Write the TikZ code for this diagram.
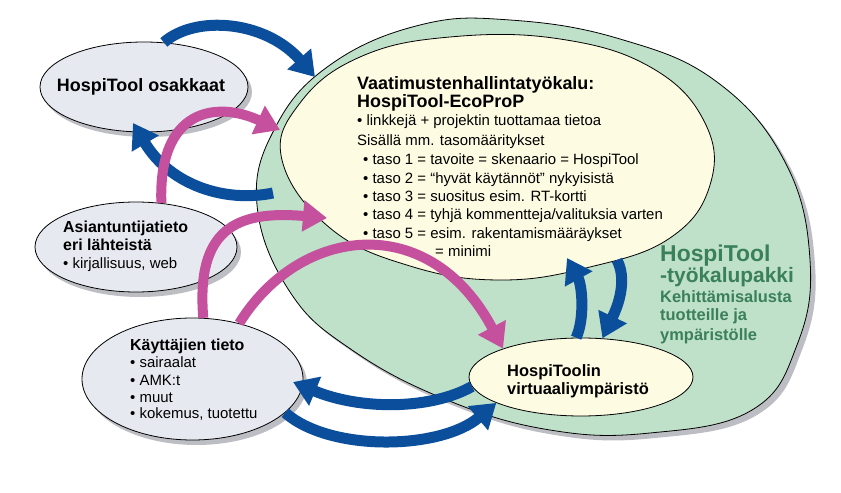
\documentclass[tikz,border=0pt]{standalone}
\usepackage{fontspec}
\setmainfont{Liberation Sans}
\usetikzlibrary{arrows.meta,shapes.geometric,shadows}
\definecolor{blu}{HTML}{0B4F9C}
\definecolor{mag}{HTML}{C4509E}
\definecolor{grayfill}{HTML}{E6EAF0}
\definecolor{yelfill}{HTML}{FDFBE1}
\definecolor{grnfill}{HTML}{BFE0C9}
\definecolor{grntext}{HTML}{3A805A}
\definecolor{shd}{HTML}{BDBEC4}
\newcommand{\fsz}[1]{\fontsize{#1}{#1}\selectfont}
\newcommand{\greenblob}[1]{\path[#1] plot[smooth cycle,tension=0.7] coordinates {(257,205) (275,128) (330,65) (420,25) (510,20) (620,39) (717,82) (785,162) (810,260) (797,345) (752,410) (650,433) (550,430) (447,400) (352,350) (290,292)};}
\begin{document}
\begin{tikzpicture}[x=1bp,y=-1bp,
  outl/.style={draw=black,line width=0.8bp},
  grayell/.style={ellipse,outl,fill=grayfill,inner sep=0pt,
    drop shadow={shadow xshift=4bp,shadow yshift=-5bp,fill=shd,opacity=1}},
  virtell/.style={ellipse,outl,fill=yelfill,inner sep=0pt},
  barrow/.style={draw=blu,line width=11bp,-{Triangle[width=30bp,length=24bp]}},
  marrow/.style={draw=mag,line width=10bp,-{Triangle[width=30bp,length=24bp]}},
  txt/.style={anchor=base west,inner sep=0pt,font=\fsz{15}},
  btxt/.style={anchor=base west,inner sep=0pt,font=\fsz{#1}\bfseries},
  gtxt/.style={anchor=base west,inner sep=0pt,text=grntext,font=\fsz{#1}\bfseries}]
\path[use as bounding box] (0,0) rectangle (841,493);
% toolkit container
\greenblob{fill=shd,shift={(5,5)}}
\greenblob{fill=grnfill,outl}
% requirements tool
\path[fill=yelfill,outl] plot[smooth cycle,tension=0.7] coordinates {(282,160) (300,103) (360,57) (450,37) (560,39) (652,68) (705,123) (710,185) (670,238) (590,267) (500,280) (410,266) (330,228)};
% ellipse nodes
\node[grayell,minimum width=208bp,minimum height=90bp] (osak) at (144,87) {};
\node[grayell,minimum width=202bp,minimum height=90bp] (asian) at (136,247) {};
\node[grayell,minimum width=221bp,minimum height=122bp] (kay) at (192.5,379) {};
\node[virtell,minimum width=224bp,minimum height=78bp] (virt) at (581,377) {};
% arrow end points
\coordinate (b1e) at (315,77);
\coordinate (b2s) at (273,193);
\coordinate (b2e) at (133,123);
\coordinate (m1e) at (280,130);
\coordinate (m2e) at (327,218);
\coordinate (b3e) at (293,382);
\coordinate (b5e) at (567,258);
\coordinate (b6s) at (617,260);
% arrows
\draw[barrow] (osak.66) .. controls (195,15) and (265,20) .. (b1e);
\draw[barrow] (b2s) .. controls (225,203) and (170,185) .. (b2e);
\draw[marrow] (asian.60) .. controls (158,110) and (215,100) .. (m1e);
\draw[marrow] (kay.80) .. controls (196,230) and (235,210) .. (m2e);
\draw[marrow] (kay.50) .. controls (300,225) and (430,210) .. (virt.160);
\draw[barrow] (virt.185) .. controls (430,410) and (360,410) .. (b3e);
\draw[barrow] (kay.-20) .. controls (330,452) and (440,450) .. (virt.197);
\draw[barrow] (virt.97) .. controls (585,318) and (582,285) .. (b5e);
\draw[barrow] (b6s) .. controls (630,285) and (612,318) .. (virt.61);
% texts
\node[btxt=18,anchor=base] (osakt) at (141,92) {HospiTool osakkaat};
\node[btxt=16] (as1) at (63,233) {Asiantuntijatieto};
\node[btxt=16] (as2) at (63,251) {eri lähteistä};
\node[txt] (as3) at (63,269) {• kirjallisuus, web};
\node[btxt=16] (k1) at (130,350) {Käyttäjien tieto};
\node[txt] (k2) at (130,367.5) {• sairaalat};
\node[txt] (k3) at (130,385) {• AMK:t};
\node[txt] (k4) at (130,402) {• muut};
\node[txt] (k5) at (130,418.5) {• kokemus, tuotettu};
\node[btxt=16.5] (v1) at (507,376) {HospiToolin};
\node[btxt=16.5] (v2) at (507,394) {virtuaaliympäristö};
\node[btxt=18] (r1) at (357,89.5) {Vaatimustenhallintatyökalu:};
\node[btxt=18] (r2) at (357,108) {HospiTool-EcoProP};
\node[txt] (r3) at (357,126) {• linkkejä + projektin tuottamaa tietoa};
\node[txt] (r4) at (357,146) {Sisällä mm. tasomääritykset};
\node[txt] (r5) at (363,165) {• taso 1 = tavoite = skenaario = HospiTool};
\node[txt] (r6) at (363,183.5) {• taso 2 = “hyvät käytännöt” nykyisistä};
\node[txt] (r7) at (363,202) {• taso 3 = suositus esim. RT-kortti};
\node[txt] (r8) at (363,220) {• taso 4 = tyhjä kommentteja/valituksia varten};
\node[txt] (r9) at (363,238.5) {• taso 5 = esim. rakentamismääräykset};
\node[txt] (r10) at (435,257) {= minimi};
\node[gtxt=23] (g1) at (660,262) {HospiTool};
\node[gtxt=21] (g2) at (660,283) {-työkalupakki};
\node[gtxt=16.5] (g3) at (660,303) {Kehittämisalusta};
\node[gtxt=16.5] (g4) at (660,321) {tuotteille ja};
\node[gtxt=16.5] (g5) at (660,340) {ympäristölle};
\end{tikzpicture}
\end{document}
